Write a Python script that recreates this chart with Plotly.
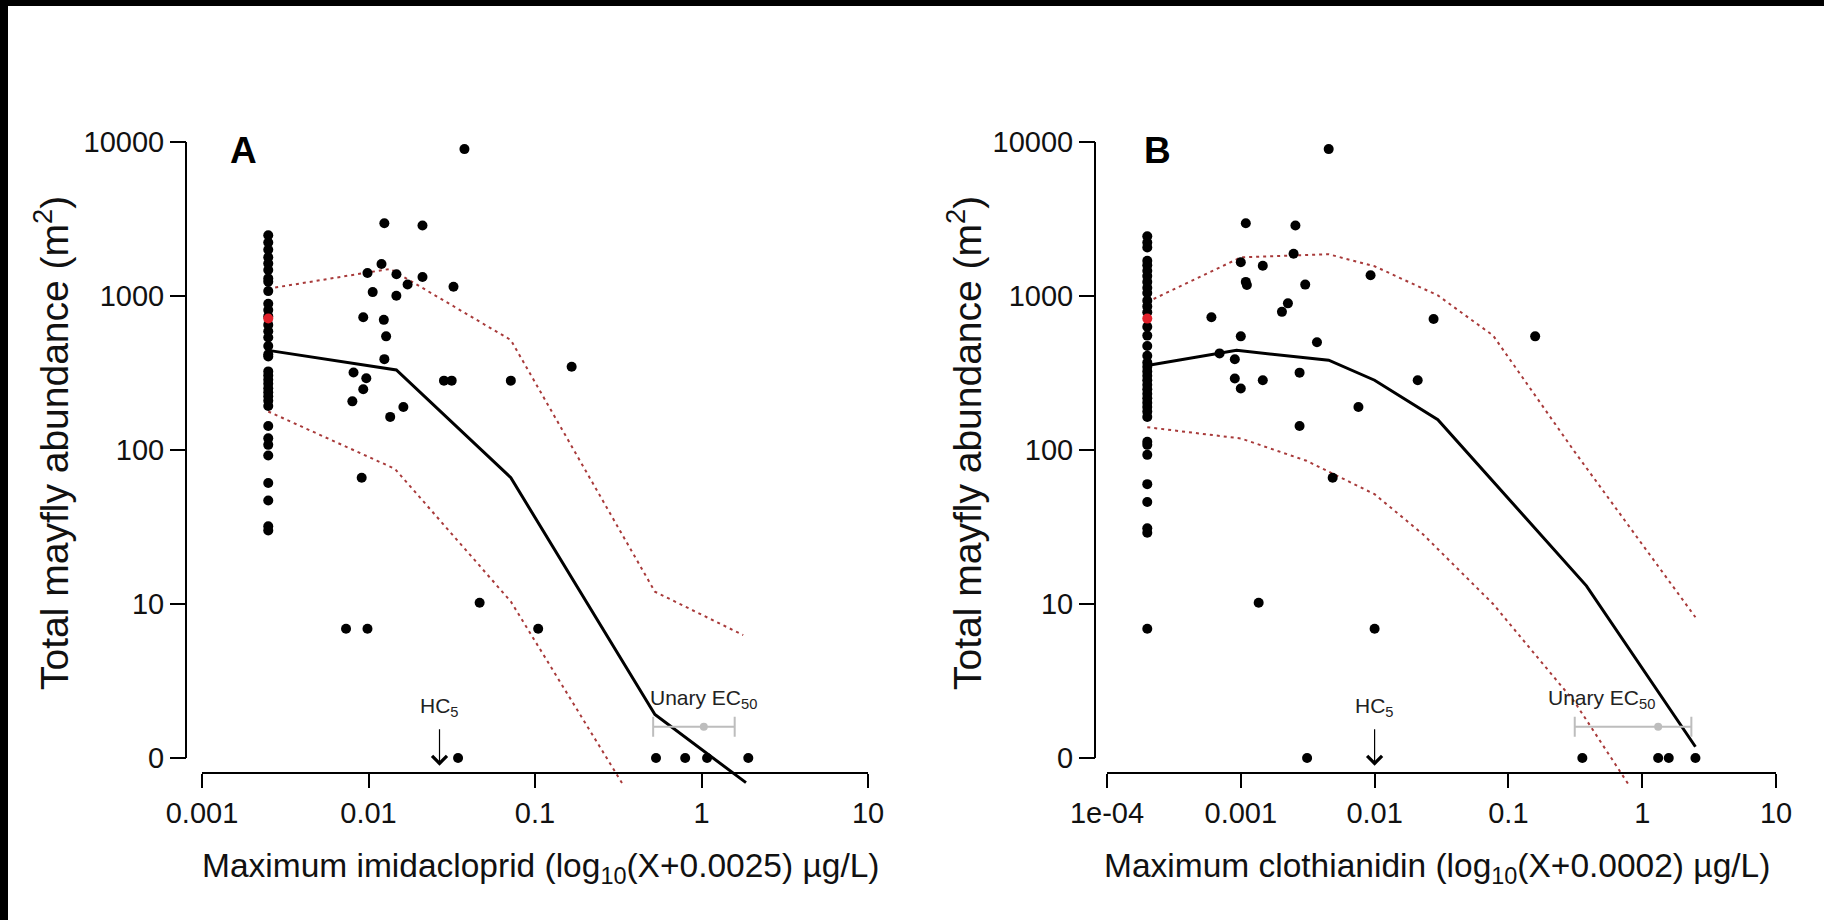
import numpy as np
import plotly.graph_objects as go

W, H = 1824, 920

# ---------------- Panel A : imidacloprid (offset 0.0025) ----------------
A_offset = 0.0025
A_zero_abund = [2477, 2222, 1995, 1781, 1622, 1475, 1300, 1236, 1075, 889, 809, 736,
                648, 590, 537, 473, 417, 404, 323, 304, 285, 268, 251, 236, 222, 208,
                192, 142, 118, 107, 91, 60, 46, 31, 29]
A_red_abund = 713
A_conc = [0.0352, 0.00995, 0.0186, 0.00947, 0.00736, 0.01222, 0.0186, 0.01467, 0.0299,
          0.0081, 0.0122, 0.0068, 0.00986, 0.01026, 0.00995, 0.00563, 0.0072, 0.0068,
          0.0055, 0.0137, 0.011, 0.0259, 0.0291, 0.0691, 0.1635, 0.0066, 0.044,
          0.00483, 0.00736, 0.102, 0.032, 0.5305, 0.7955, 1.0775, 1.9075]
A_abund = [8990, 2965, 2866, 1611, 1410, 1383, 1328, 1186, 1146, 1059, 1002, 727, 699,
           546, 388, 318, 291, 247, 206, 189, 163, 281, 281, 281, 346, 65, 9.2, 5.9,
           5.9, 5.9, 0, 0, 0, 0, 0]
# fitted curve and bounds (log10(abundance+1) units)
A_fit_conc = [0, 0.0122, 0.0691, 0.5225, 1.8475]
A_fit_log = [2.647, 2.52, 1.82, 0.282, -0.16]
A_up_conc = [0, 0.011, 0.0691, 0.5225, 1.7775]
A_up_log = [3.048, 3.176, 2.714, 1.08, 0.798]
A_lo_conc = [0, 0.0119, 0.0691, 0.3695]
A_lo_log = [2.25, 1.878, 1.016, -0.247]
A_hc5 = 0.0242
A_ec50 = [1.03, 0.51, 1.58]  # estimate, lower, upper
A_ec50_label_x = 1.03

# ---------------- Panel B : clothianidin (offset 0.0002) ----------------
B_offset = 0.0002
B_zero_abund = [2442, 2222, 2063, 1690, 1581, 1459, 1346, 1234, 1131, 1044, 932, 855,
                783, 631, 552, 473, 408, 369, 346, 323, 302, 283, 264, 247, 231, 216,
                202, 189, 177, 163, 112, 107, 92, 59, 45, 30, 28, 5.9]
B_red_abund = 712
B_conc = [0.00434, 0.00089, 0.00236, 0.00228, 0.0008, 0.00126, 0.00913, 0.00089,
          0.00091, 0.00283, 0.00205, 0.00183, 0.000403, 0.0274, 0.1583, 0.0008,
          0.00351, 0.000494, 0.000702, 0.00255, 0.000702, 0.00126, 0.0208, 0.0008,
          0.00737, 0.00255, 0.00466, 0.00116, 0.0098, 0.00293, 0.3568, 1.3158,
          1.5798, 2.4998]
B_abund = [8990, 2965, 2866, 1880, 1655, 1570, 1364, 1234, 1178, 1185, 895, 788, 727,
           708, 546, 546, 500, 423, 387, 317, 290, 283, 283, 250, 189, 142, 65, 9.2,
           5.9, 0, 0, 0, 0, 0]
B_fit_conc = [0, 0.00073, 0.00434, 0.0098, 0.0295, 0.3828, 2.4998]
B_fit_log = [2.549, 2.647, 2.583, 2.453, 2.197, 1.118, 0.073]
B_up_conc = [0, 0.0008, 0.00434, 0.0098, 0.0295, 0.0767, 0.3128, 2.4998]
B_up_log = [2.961, 3.251, 3.271, 3.193, 3.004, 2.743, 1.988, 0.914]
B_lo_conc = [0, 0.0008, 0.0029, 0.0098, 0.0229, 0.0767, 0.3128, 0.8998]
B_lo_log = [2.148, 2.075, 1.93, 1.713, 1.451, 1.0, 0.363, -0.247]
B_hc5 = 0.0098
B_ec50 = [1.316, 0.313, 2.33]
B_ec50_label_x = 0.5

y_tickvals = [0, 1, 2, 3, 4]
y_ticktext = ["0", "10", "100", "1000", "10000"]
A_xticks = [0.001, 0.01, 0.1, 1, 10]
A_xticktext = ["0.001", "0.01", "0.1", "1", "10"]
B_xticks = [0.0001, 0.001, 0.01, 0.1, 1, 10]
B_xticktext = ["1e-04", "0.001", "0.01", "0.1", "1", "10"]

FONT = "Arial, Liberation Sans, sans-serif"
DOT_COL = "#a83a3a"
GRAY = "#bdbdbd"


def px(x):
    return x / W


def py(y):
    return 1 - y / H


def tr(v):
    return np.log10(np.asarray(v, dtype=float) + 1)


fig = go.Figure()

panels = [
    dict(xa="x", ya="y", off=A_offset, zero=A_zero_abund, red=A_red_abund, conc=A_conc,
         ab=A_abund, fit=(A_fit_conc, A_fit_log), up=(A_up_conc, A_up_log),
         lo=(A_lo_conc, A_lo_log), hc5=A_hc5, ec=A_ec50, ecx=A_ec50_label_x),
    dict(xa="x2", ya="y2", off=B_offset, zero=B_zero_abund, red=B_red_abund, conc=B_conc,
         ab=B_abund, fit=(B_fit_conc, B_fit_log), up=(B_up_conc, B_up_log),
         lo=(B_lo_conc, B_lo_log), hc5=B_hc5, ec=B_ec50, ecx=B_ec50_label_x),
]

for p in panels:
    off = p["off"]
    for (cx, cy), st in [(p["up"], "dot"), (p["lo"], "dot"), (p["fit"], "solid")]:
        fig.add_trace(go.Scatter(
            x=np.asarray(cx) + off, y=cy, mode="lines", xaxis=p["xa"], yaxis=p["ya"],
            line=dict(color="black" if st == "solid" else DOT_COL,
                      width=3 if st == "solid" else 2,
                      dash="solid" if st == "solid" else "3px,4px"),
            showlegend=False, hoverinfo="skip"))
    xs = list(np.zeros(len(p["zero"])) + off) + list(np.asarray(p["conc"]) + off)
    ys = list(tr(p["zero"])) + list(tr(p["ab"]))
    fig.add_trace(go.Scatter(x=xs, y=ys, mode="markers", xaxis=p["xa"], yaxis=p["ya"],
                             marker=dict(color="black", size=10), showlegend=False,
                             cliponaxis=False))
    fig.add_trace(go.Scatter(x=[off], y=tr([p["red"]]), mode="markers", xaxis=p["xa"],
                             yaxis=p["ya"], marker=dict(color="#e0202a", size=10),
                             showlegend=False, cliponaxis=False))
    est, lo, hi = p["ec"]
    fig.add_trace(go.Scatter(
        x=[est + off], y=[0.203], mode="markers", xaxis=p["xa"], yaxis=p["ya"],
        marker=dict(color=GRAY, size=8),
        error_x=dict(type="data", symmetric=False, array=[hi - est], arrayminus=[est - lo],
                     color=GRAY, thickness=2, width=10),
        showlegend=False))

W_A = (202, 868)
W_B = (1107, 1776)
Y_TOP, Y_ZERO, Y_BOT = 142, 758, 784
unit = (Y_ZERO - Y_TOP) / 4.0
tmin = -(Y_BOT - Y_ZERO) / unit

axis_common = dict(showgrid=False, zeroline=False, ticks="outside", tickwidth=2,
                   automargin=False, tickcolor="black",
                   tickfont=dict(family=FONT, size=29, color="#111"))

fig.update_layout(
    width=W, height=H, margin=dict(l=0, r=0, t=0, b=0, pad=0, autoexpand=False),
    paper_bgcolor="white", plot_bgcolor="rgba(0,0,0,0)", showlegend=False,
    xaxis=dict(type="log", domain=[px(W_A[0]), px(W_A[1])], range=[-3, 1], anchor="free",
               position=py(773), showline=True, linewidth=2, linecolor="black",
               ticklen=14, tickvals=A_xticks, ticktext=A_xticktext, **axis_common),
    yaxis=dict(domain=[py(Y_BOT), py(Y_TOP)], range=[tmin, 4], anchor="free",
               position=px(186), showline=False, ticklen=16, tickvals=y_tickvals,
               ticktext=y_ticktext, **axis_common),
    xaxis2=dict(type="log", domain=[px(W_B[0]), px(W_B[1])], range=[-4, 1], anchor="free",
                position=py(773), showline=True, linewidth=2, linecolor="black",
                ticklen=14, tickvals=B_xticks, ticktext=B_xticktext, **axis_common),
    yaxis2=dict(domain=[py(Y_BOT), py(Y_TOP)], range=[tmin, 4], anchor="free",
                position=px(1095), showline=False, ticklen=16, tickvals=y_tickvals,
                ticktext=y_ticktext, **axis_common),
)

# y axis lines spanning 0..10000 only (R style)
for xp, yref in [(186, "y"), (1095, "y2")]:
    fig.add_shape(type="line", xref="paper", yref=yref, x0=px(xp), x1=px(xp), y0=0, y1=4,
                  line=dict(color="black", width=2))

# black frame remnants
fig.add_shape(type="rect", xref="paper", yref="paper", x0=0, x1=1, y0=py(6), y1=1,
              fillcolor="black", line_width=0, layer="above")
fig.add_shape(type="rect", xref="paper", yref="paper", x0=0, x1=px(8), y0=0, y1=1,
              fillcolor="black", line_width=0, layer="above")

ann = []
titles = [
    ("A", 243, "Maximum imidacloprid (log<sub>10</sub>(X+0.0025) µg/L)", 541, 52),
    ("B", 1157, "Maximum clothianidin (log<sub>10</sub>(X+0.0002) µg/L)", 1437, 965),
]
for lab, lx, xt, xtx, ytx in titles:
    ann.append(dict(text="<b>%s</b>" % lab, x=px(lx), y=py(150), xref="paper",
                    yref="paper", xanchor="center", yanchor="middle", showarrow=False,
                    font=dict(family=FONT, size=37, color="black")))
    ann.append(dict(text=xt, x=px(xtx), y=py(868), xref="paper", yref="paper",
                    xanchor="center", yanchor="middle", showarrow=False,
                    font=dict(family=FONT, size=33.5, color="#111")))
    ann.append(dict(text="Total mayfly abundance (m<sup>2</sup>)", x=px(ytx), y=py(443),
                    xref="paper", yref="paper", xanchor="center", yanchor="middle",
                    textangle=-90, showarrow=False,
                    font=dict(family=FONT, size=39, color="#111")))

for p in panels:
    off = p["off"]
    xr = p["xa"]
    yr = p["ya"]
    hx = np.log10(p["hc5"] + off)
    ann.append(dict(text="HC<sub>5</sub>", x=hx, y=0.334, xref=xr, yref=yr,
                    xanchor="center", yanchor="middle", showarrow=False,
                    font=dict(family=FONT, size=21, color="#222")))
    ann.append(dict(text="", x=hx, y=-0.05, xref=xr, yref=yr, showarrow=True, ax=0,
                    ay=-38, arrowhead=4, arrowsize=2.4, arrowwidth=1.2,
                    arrowcolor="black"))
    ann.append(dict(text="Unary EC<sub>50</sub>", x=np.log10(p["ecx"] + off), y=0.38,
                    xref=xr, yref=yr, xanchor="center", yanchor="middle",
                    showarrow=False, font=dict(family=FONT, size=21, color="#222")))

fig.update_layout(annotations=ann)
fig.write_html("out.html", config={"displayModeBar": False},
               post_script="document.body.style.margin='0';"
                           "document.body.style.overflow='hidden';")
